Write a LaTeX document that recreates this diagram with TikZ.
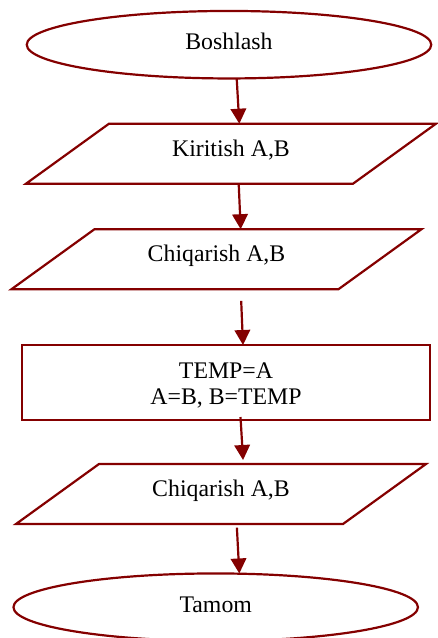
\documentclass[tikz,border=0pt]{standalone}
\usepackage{fontspec}
\setmainfont{Liberation Serif}
\usetikzlibrary{shapes.geometric,arrows.meta}
\definecolor{maroonline}{RGB}{132,0,0}
\tikzset{
  base/.style={line width=2.2pt, inner sep=0pt, outer sep=0pt,
    font=\fontsize{23.8pt}{26.7pt}\selectfont, text=black},
  term/.style={base, draw=maroonline, ellipse, minimum width=404.5pt, minimum height=67.5pt,
    text height=16pt, text depth=5.5pt},
  io/.style={base, rectangle, minimum width=244pt, minimum height=60pt,
    text height=16pt, text depth=11pt},
  ioline/.style={draw=maroonline, line width=2.2pt, line join=miter},
  proc/.style={base, draw=maroonline, rectangle, minimum width=408pt, minimum height=75pt, align=center},
  arr/.style={draw=maroonline, line width=2.2pt, -{Triangle[length=15pt,width=15.5pt]}}
}
\begin{document}
\begin{tikzpicture}[x=1pt,y=-1pt]
\useasboundingbox (0,0) rectangle (437,638);
\node[term] (e1) at (229,44.7) {Boshlash};
\node[io] (p1) at (231,153.7) {Kiritish A,B};
\node[io] (p2) at (216.5,259.2) {Chiqarish A,B};
\node[proc] (r) at (226,382.5) {\rule{0pt}{21.6pt}TEMP=A\\A=B, B=TEMP};
\node[io] (p3) at (221,494) {Chiqarish A,B};
\node[term] (e2) at (215.7,607.2) {Tamom};
\foreach \p in {p1,p2,p3}
  \draw[ioline] ([xshift=-83pt]\p.south west) -- (\p.south east) -- ([xshift=83pt]\p.north east) -- (\p.north west) -- cycle;
\draw[arr] ([xshift=7.7pt]e1.south) -- ([xshift=8.3pt]p1.north);
\draw[arr] ([xshift=7.7pt]p1.south) -- ([xshift=24.2pt]p2.north);
\draw[arr, shorten <=11.7pt] ([xshift=24.2pt]p2.south) -- ([xshift=17pt]r.north);
\draw[arr, shorten <=-3pt, shorten >=4pt] ([xshift=14.7pt]r.south) -- ([xshift=22.3pt]p3.north);
\draw[arr, shorten <=3.6pt] ([xshift=15.7pt]p3.south) -- ([xshift=23.6pt]e2.north);
\end{tikzpicture}
\end{document}
